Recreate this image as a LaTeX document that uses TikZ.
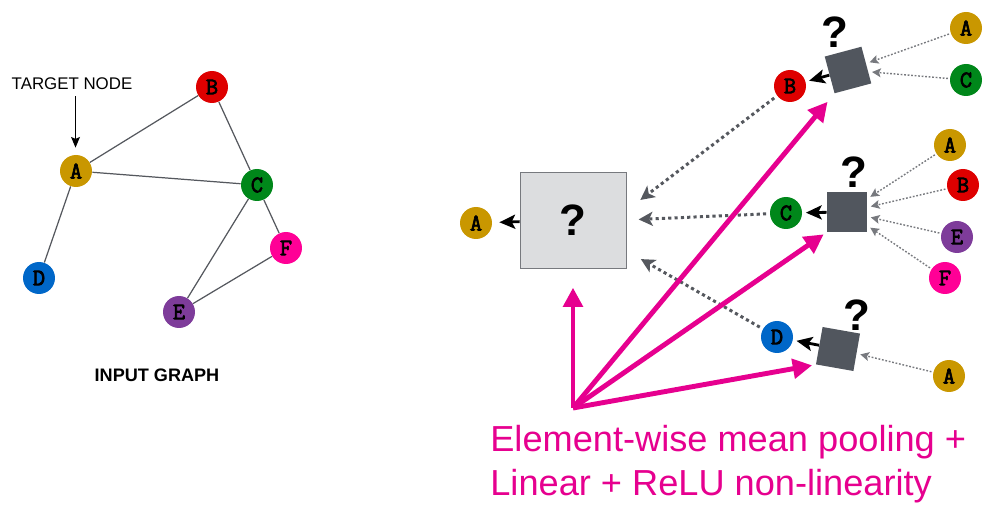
\documentclass[tikz,border=0pt]{standalone}
\usepackage{fontspec}
\setmainfont{Liberation Sans}
\newfontfamily\letterfont{Latin Modern Mono}[FakeBold=3]
\usetikzlibrary{arrows.meta}

\definecolor{gold}{HTML}{C99700}
\definecolor{redB}{HTML}{DE0000}
\definecolor{greenC}{HTML}{00871A}
\definecolor{blueD}{HTML}{0067C8}
\definecolor{purpleE}{HTML}{7E3C9A}
\definecolor{pinkF}{HTML}{FF0096}
\definecolor{magenta}{HTML}{E6008F}
\definecolor{slate}{HTML}{51565E}
\definecolor{boxgray}{HTML}{DCDDDF}
\definecolor{edgegray}{HTML}{55585E}

\tikzset{
    vertex/.style={circle, minimum size=0.64cm, inner sep=0pt,
        font={\letterfont\fontsize{13.5}{13.5}\selectfont}},
    edge/.style={draw=edgegray, line width=0.7pt},
    sq/.style={fill=slate, minimum size=0.76cm, inner sep=0pt},
    qmark/.style={font={\bfseries\fontsize{25}{25}\selectfont}},
    passarrow/.style={-{Stealth[length=9pt,width=8pt,inset=2pt]}, line width=1.6pt, shorten >=2pt},
    thindots/.style={-{Stealth[length=5pt,width=5pt,inset=1pt]}, draw=edgegray!80,
        line width=0.8pt, dash pattern=on 1pt off 1pt, shorten >=2pt, shorten <=1pt},
    thickdots/.style={-{Stealth[length=8pt,width=8pt,inset=2pt]}, draw=edgegray,
        line width=1.7pt, dash pattern=on 1.8pt off 1.8pt, shorten <=2pt},
    pinkarrow/.style={-{Triangle[length=11pt,width=11pt]}, draw=magenta, line width=2.8pt},
    note/.style={text=magenta, anchor=base west, inner sep=0pt,
        font={\fontsize{20.6}{25}\selectfont}}
}

\begin{document}
\begin{tikzpicture}[x=0.02cm, y=-0.02cm]
    \useasboundingbox (0,0) rectangle (992,506);

    % Input graph
    \node[vertex, fill=gold] (A) at (76,171) {A};
    \node[vertex, fill=redB] (B) at (212,87) {B};
    \node[vertex, fill=greenC] (C) at (257,185) {C};
    \node[vertex, fill=blueD] (D) at (39,278) {D};
    \node[vertex, fill=purpleE] (E) at (179,312) {E};
    \node[vertex, fill=pinkF] (F) at (286,248) {F};
    \draw[edge] (A) -- (B) (A) -- (C) (A) -- (D) (B) -- (C)
        (C) -- (E) (C) -- (F) (E) -- (F);

    % Target label
    \node[font={\fontsize{9.6}{10}\selectfont}] (target) at (72,84) {TARGET NODE};
    \draw[-{Stealth[length=6pt,width=5pt,inset=1pt]}, line width=0.8pt, shorten >=4pt]
        ([xshift=2]target.south) -- ([xshift=2]target.south |- A.north);
    \node[font={\bfseries\fontsize{10.3}{11}\selectfont}] (title) at (157,375) {INPUT GRAPH};

    % Second layer: aggregation box for A
    \node[draw=edgegray!80, fill=boxgray, minimum width=2.12cm, minimum height=1.92cm,
        qmark] (agg) at (573,220) {?};
    \node[vertex, fill=gold] (A0) at (476,223) {A};
    \draw[passarrow, shorten >=4pt] (agg) -- (A0);

    % First layer: neighbour B
    \node[vertex, fill=redB] (B1) at (790,86) {B};
    \node[sq, rotate=15] (sqB) at (848,70) {};
    \node[qmark] (qB) at (835,32) {?};
    \node[vertex, fill=gold] (AB) at (966,28) {A};
    \node[vertex, fill=greenC] (CB) at (966,80) {C};
    \draw[thindots] (AB) -- (sqB);
    \draw[thindots] (CB) -- (sqB);
    \draw[passarrow] (sqB) -- (B1);

    % First layer: neighbour C
    \node[vertex, fill=greenC] (C1) at (786,213) {C};
    \node[sq, minimum size=0.8cm] (sqC) at (847,212) {};
    \node[qmark] (qC) at (854,172) {?};
    \node[vertex, fill=gold] (AC) at (950,145) {A};
    \node[vertex, fill=redB] (BC) at (963,185) {B};
    \node[vertex, fill=purpleE] (EC) at (957,237) {E};
    \node[vertex, fill=pinkF] (FC) at (945,278) {F};
    \foreach \n in {AC,BC,EC,FC}
        \draw[thindots] (\n) -- (sqC);
    \draw[passarrow] (sqC) -- (C1);

    % First layer: neighbour D
    \node[vertex, fill=blueD] (D1) at (777,337) {D};
    \node[sq, rotate=-10] (sqD) at (838,349) {};
    \node[qmark] (qD) at (857,315) {?};
    \node[vertex, fill=gold] (AD) at (949,376) {A};
    \draw[thindots] (AD) -- (sqD);
    \draw[passarrow] (sqD) -- (D1);

    % Messages into the box
    \draw[thickdots, shorten >=10pt] (B1) -- (agg.10);
    \draw[thickdots, shorten >=7pt] (C1) -- (agg.east);
    \draw[thickdots, shorten >=9.5pt] (D1) -- (agg.-30);

    % Pooling arrows
    \coordinate (pool) at (573,408);
    \draw[pinkarrow, shorten >=11pt] (pool) -- (agg.south);
    \draw[pinkarrow, shorten >=6pt] (pool) -- (sqB.south west);
    \draw[pinkarrow, shorten >=2pt] (pool) -- (sqC.south west);
    \draw[pinkarrow, shorten >=2pt] (pool) -- (sqD.south west);

    % Caption
    \node[note] (note1) at (490,452) {Element-wise mean pooling +};
    \node[note] (note2) at (490,496) {Linear + ReLU non-linearity};
\end{tikzpicture}
\end{document}
